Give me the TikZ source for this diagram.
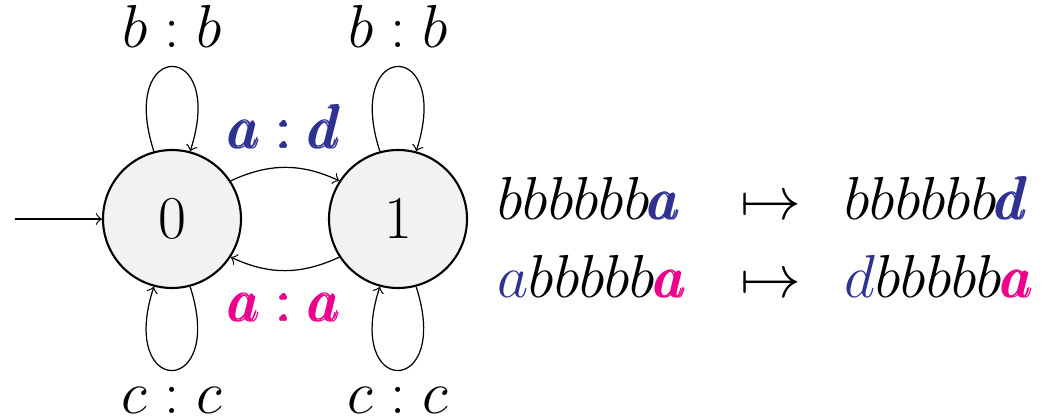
\documentclass[tikz,border=0pt]{standalone}
\usepackage{amssymb}
\usepackage{amsmath}
\usepackage{xcolor}
\usepackage{tikz}
\usetikzlibrary{positioning}

\definecolor{dblue}{RGB}{46,49,146}
\definecolor{dpink}{RGB}{236,0,140}

\begin{document}
\begin{tikzpicture}[
      state/.style={circle, draw, line width=0.6pt, fill=black!5, minimum size=1.38cm, inner sep=0pt, font=\fontsize{16}{19}\selectfont},
      trans/.style={->, line width=0.35pt},
      lbl/.style={inner sep=0pt, font=\fontsize{16}{19}\selectfont},
      word/.style={inner sep=0pt, anchor=base west, font=\fontsize{18}{22}\selectfont}
    ]
    \useasboundingbox (0,0) rectangle (10.49,4.16);

    \node[state] (s0) at (1.72,1.97) {$0$};
    \node[state] (s1) at (3.98,1.97) {$1$};
    \coordinate (start) at (0.15,1.97);

    \draw[trans] (start) -- (s0);
    \draw[trans] (s0.105) to[out=108, in=72, looseness=8.4] node[lbl, above=5.3pt] (l0b) {$b:b$} (s0.75);
    \draw[trans] (s1.105) to[out=108, in=72, looseness=8.4] node[lbl, above=5.3pt] (l1b) {$b:b$} (s1.75);
    \draw[trans] (s0.-75) to[out=-72, in=-108, looseness=8.3] node[lbl, below=4.6pt] (l0c) {$c:c$} (s0.-105);
    \draw[trans] (s1.-75) to[out=-72, in=-108, looseness=8.3] node[lbl, below=4.6pt] (l1c) {$c:c$} (s1.-105);
    \draw[trans] (s0.33) to[out=25, in=155] node[lbl, above=5.3pt] (lad) {$\textcolor{dblue}{\pmb{a:d}}$} (s1.147);
    \draw[trans] (s1.-147) to[out=-155, in=-25] node[lbl, below=6.3pt] (laa) {$\textcolor{dpink}{\pmb{a:a}}$} (s0.-33);

    % example words
    \node[word] (in1) at (4.97,1.96) {$bbbbbb\textcolor{dblue}{\pmb{a}}$};
    \node[word] (map1) at (7.40,1.96) {$\mapsto$};
    \node[word] (out1) at (8.44,1.96) {$bbbbbb\textcolor{dblue}{\pmb{d}}$};
    \node[word] (in2) at (4.97,1.18) {$\textcolor{dblue}{a}bbbbb\textcolor{dpink}{\pmb{a}}$};
    \node[word] (map2) at (7.40,1.18) {$\mapsto$};
    \node[word] (out2) at (8.44,1.18) {$\textcolor{dblue}{d}bbbbb\textcolor{dpink}{\pmb{a}}$};
  \end{tikzpicture}
\end{document}
